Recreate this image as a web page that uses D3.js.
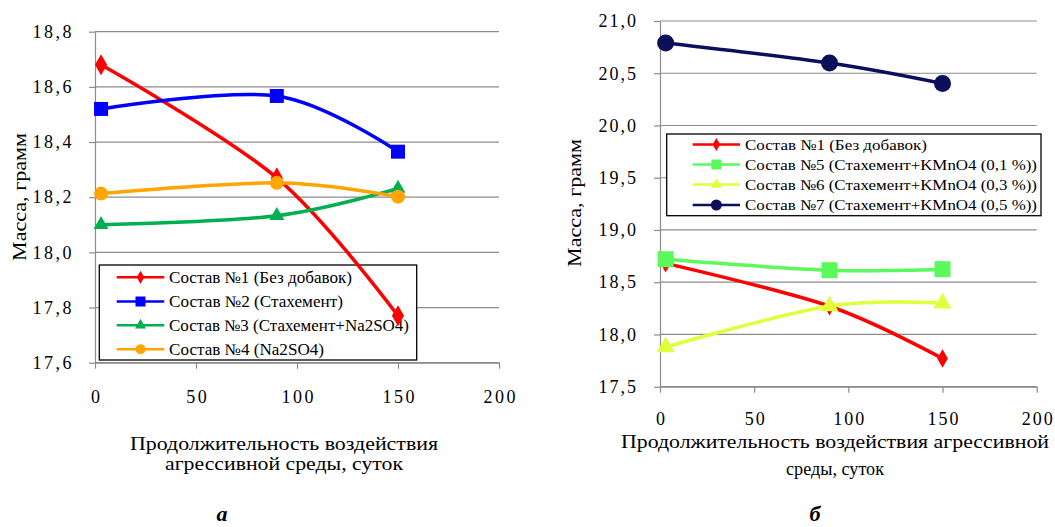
<!DOCTYPE html>
<html>
<head>
<meta charset="utf-8">
<script src="https://cdn.jsdelivr.net/npm/d3@7"></script>
<style>
  body { margin: 0; background: #fff; }
</style>
</head>
<body>
<svg id="chart" width="1055" height="527"></svg>
<script>
// сутки воздействия
const days = [3, 90, 150];

// панель а
const sostav1 = [18.68, 18.27, 17.77];
const sostav2 = [18.52, 18.567, 18.365];
const sostav3 = [18.10, 18.133, 18.232];
const sostav4 = [18.213, 18.252, 18.202];

// панель б
const sostav5 = [18.72, 18.615, 18.625];
const sostav6 = [17.88, 18.272, 18.298];
const sostav7 = [20.79, 20.598, 20.402];

const xTicks = [0, 50, 100, 150, 200];
const yTicksA = [17.6, 17.8, 18.0, 18.2, 18.4, 18.6, 18.8];
const yTicksB = [17.5, 18.0, 18.5, 19.0, 19.5, 20.0, 20.5, 21.0];

const namesA = ['Состав №1 (Без добавок)', 'Состав №2 (Стахемент)', 'Состав №3 (Стахемент+Na2SO4)', 'Состав №4 (Na2SO4)'];
const namesB = ['Состав №1 (Без добавок)', 'Состав №5 (Стахемент+KMnO4 (0,1 %))', 'Состав №6 (Стахемент+KMnO4 (0,3 %))', 'Состав №7 (Стахемент+KMnO4 (0,5 %))'];

const FONT = 'Liberation Serif';
const svg = d3.select('#chart');
const comma = v => d3.format('.1f')(v).replace('.', ',');

function marker(sel, shape, size, color) {
  const sym = { diamond: d3.symbolDiamond, square: d3.symbolSquare, triangle: d3.symbolTriangle, circle: d3.symbolCircle }[shape];
  // площадь символа из ширины
  let area = size * size;
  if (shape === 'circle') area = Math.PI * size * size / 4;
  if (shape === 'diamond') area = size * size / 2;
  if (shape === 'triangle') area = size * size * Math.sqrt(3) / 4;
  sel.append('path')
    .attr('d', d3.symbol().type(sym).size(area)())
    .attr('fill', color);
}

function panel(cfg) {
  const x = d3.scaleLinear().domain([0, 200]).range([cfg.left, cfg.right]);
  const y = d3.scaleLinear().domain(cfg.yDomain).range([cfg.bottom, cfg.top]);
  const g = svg.append('g');

  // сетка
  g.selectAll('line.grid').data(cfg.yTicks).enter().append('line')
    .attr('x1', cfg.left).attr('x2', cfg.right)
    .attr('y1', d => y(d)).attr('y2', d => y(d))
    .attr('stroke', '#8c8c8c').attr('stroke-width', 1.2);

  const ay = g.append('g').attr('transform', `translate(${cfg.left},0)`)
    .call(d3.axisLeft(y).tickValues(cfg.yTicks).tickFormat(comma).tickSize(6).tickSizeOuter(0).tickPadding(cfg.yPad));
  const ax = g.append('g').attr('transform', `translate(0,${cfg.bottom})`)
    .call(d3.axisBottom(x).tickValues(xTicks).tickSize(6).tickSizeOuter(0).tickPadding(cfg.xPad));
  [ax, ay].forEach(a => {
    a.attr('font-family', FONT).attr('font-size', 18);
    a.select('.domain').attr('stroke', '#8c8c8c').attr('stroke-width', 1.2);
    a.selectAll('.tick line').attr('stroke', '#8c8c8c').attr('stroke-width', 1.2);
    a.selectAll('text').attr('fill', '#000').attr('letter-spacing', cfg.spacing);
  });
  ax.selectAll('text').attr('dx', cfg.spacing / 2);

  // подписи осей
  svg.append('text')
    .attr('transform', `translate(${cfg.yTitleX},${cfg.yTitleY}) rotate(-90)`)
    .attr('text-anchor', 'middle').attr('dy', '0.35em')
    .attr('textLength', 128).attr('lengthAdjust', 'spacingAndGlyphs')
    .attr('font-family', FONT).attr('font-size', 19).text('Масса, грамм');
  cfg.xTitle.forEach((t, i) => {
    svg.append('text')
      .attr('x', cfg.xTitleX).attr('y', cfg.xTitleY[i])
      .attr('text-anchor', 'middle')
      .attr('textLength', cfg.xTitleW[i]).attr('lengthAdjust', 'spacingAndGlyphs')
      .attr('font-family', FONT).attr('font-size', 18).text(t);
  });
  svg.append('text')
    .attr('x', cfg.tagX).attr('y', 521).attr('text-anchor', 'middle')
    .attr('font-family', FONT)
    .attr('font-size', 22).attr('font-weight', 'bold').attr('font-style', 'italic')
    .text(cfg.tag);

  // легенда
  const L = cfg.legend;
  const lg = g.append('g');
  lg.append('rect').attr('x', L.x0).attr('y', L.y0).attr('width', L.x1 - L.x0).attr('height', L.y1 - L.y0)
    .attr('fill', '#fff').attr('stroke', '#000').attr('stroke-width', 1.3);
  cfg.series.forEach((s, i) => {
    const row = lg.append('g').attr('transform', `translate(0,${L.rows[i]})`);
    row.append('line').attr('x1', L.lx0).attr('x2', L.lx1).attr('stroke', s.color).attr('stroke-width', 2.5);
    marker(row.append('g').attr('transform', `translate(${(L.lx0 + L.lx1) / 2},0)`), s.shape, s.legSize, s.color);
    row.append('text').attr('x', L.tx).attr('dy', '0.35em')
      .attr('textLength', L.widths[i]).attr('lengthAdjust', 'spacingAndGlyphs')
      .attr('font-family', FONT).attr('font-size', L.font).text(s.name);
  });

  // линии
  const line = d3.line().curve(d3.curveCardinal.tension(0))
    .x((d, i) => x(days[i])).y(d => y(d));
  cfg.series.forEach(s => {
    g.append('path').attr('d', line(s.values)).attr('fill', 'none')
      .attr('stroke', s.color).attr('stroke-width', 3.5);
    s.values.forEach((v, i) => {
      marker(g.append('g').attr('transform', `translate(${x(days[i])},${y(v)})`), s.shape, s.size, s.color);
    });
  });
}

panel({
  left: 95, right: 499, top: 31.7, bottom: 362.7, yDomain: [17.6, 18.8], yTicks: yTicksA,
  yPad: 15, xPad: 22, spacing: 2.5,
  yTitleX: 19, yTitleY: 197,
  xTitle: ['Продолжительность воздействия', 'агрессивной среды, суток'], xTitleX: 284, xTitleY: [450, 470], xTitleW: [308, 238],
  tag: 'а', tagX: 222,
  legend: { x0: 99.3, x1: 416.7, y0: 265, y1: 360, rows: [277.3, 301.5, 325.2, 349.3], lx0: 116.7, lx1: 164.3, tx: 169, font: 16, widths: [183, 174, 240, 155] },
  series: [
    { name: namesA[0], values: sostav1, color: '#ff0000', shape: 'diamond', size: 16, legSize: 10 },
    { name: namesA[1], values: sostav2, color: '#0000ff', shape: 'square', size: 14, legSize: 10 },
    { name: namesA[2], values: sostav3, color: '#00b050', shape: 'triangle', size: 15, legSize: 11 },
    { name: namesA[3], values: sostav4, color: '#ffa500', shape: 'circle', size: 14, legSize: 10 }
  ]
});

panel({
  left: 660, right: 1036.7, top: 21, bottom: 386.7, yDomain: [17.5, 21.0], yTicks: yTicksB,
  yPad: 16, xPad: 20, spacing: 2,
  yTitleX: 574, yTitleY: 203,
  xTitle: ['Продолжительность воздействия агрессивной', 'среды, суток'], xTitleX: 835, xTitleY: [448, 475], xTitleW: [428, 98],
  tag: 'б', tagX: 815,
  legend: { x0: 666.7, x1: 1041, y0: 134, y1: 215.7, rows: [144.5, 164.5, 184.5, 205], lx0: 692.7, lx1: 740, tx: 745, font: 15, widths: [182, 292, 292, 292] },
  series: [
    { name: namesB[0], values: sostav1, color: '#ff0000', shape: 'diamond', size: 14, legSize: 10 },
    { name: namesB[1], values: sostav5, color: '#5cf95c', shape: 'square', size: 16, legSize: 10 },
    { name: namesB[2], values: sostav6, color: '#e1ff3a', shape: 'triangle', size: 18, legSize: 11 },
    { name: namesB[3], values: sostav7, color: '#0b0f5c', shape: 'circle', size: 17, legSize: 11 }
  ]
});
</script>
</body>
</html>
